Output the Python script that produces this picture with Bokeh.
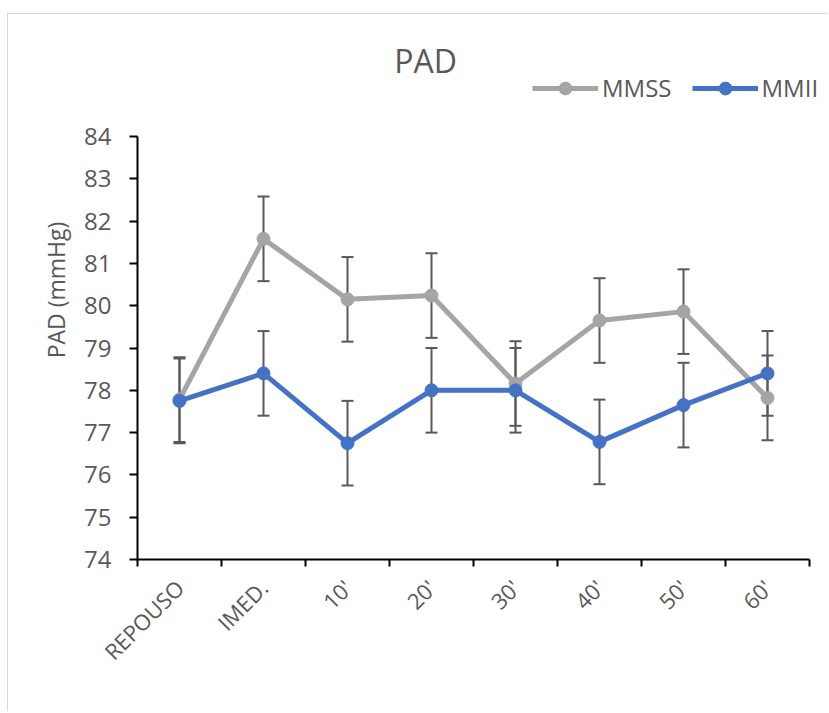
import numpy as np
from bokeh.plotting import figure
from bokeh.models import (Range1d, FixedTicker, Whisker, TeeHead, ColumnDataSource,
                          Legend, LegendItem, Label)
from bokeh.embed import file_html
from bokeh.resources import INLINE

categories = ["REPOUSO", "IMED.", "10'", "20'", "30'", "40'", "50'", "60'"]
mmss = [77.78, 81.58, 80.15, 80.24, 78.16, 79.65, 79.86, 77.82]
mmss_err = [1.0, 1.0, 1.0, 1.0, 1.0, 1.0, 1.0, 1.0]
mmii = [77.75, 78.40, 76.75, 78.00, 78.00, 76.78, 77.65, 78.40]
mmii_err = [1.0, 1.0, 1.0, 1.0, 1.0, 1.0, 1.0, 1.0]
y_ticks = [74, 75, 76, 77, 78, 79, 80, 81, 82, 83, 84]

GRAY = "#A5A5A5"
BLUE = "#4472C4"
TXT = "#595959"
FONT = "Open Sans"

n = len(categories)
xs = np.arange(n) + 0.5

# layout (pixels)
AXIS_W = 672      # width of the drawn x axis (8 categories)
AXIS_H = 423      # height of the drawn y axis (74..84)
FRAME_W = 689     # frame extends to the right so the legend is not clipped
FRAME_H = 539     # frame extends upward to hold title + legend
y0, y1 = y_ticks[0], y_ticks[-1]
x_end = n * FRAME_W / AXIS_W
y_end = y0 + (y1 - y0) * FRAME_H / AXIS_H

src_s = ColumnDataSource(dict(x=xs, y=mmss,
                              lo=np.array(mmss) - np.array(mmss_err),
                              hi=np.array(mmss) + np.array(mmss_err)))
src_i = ColumnDataSource(dict(x=xs, y=mmii,
                              lo=np.array(mmii) - np.array(mmii_err),
                              hi=np.array(mmii) + np.array(mmii_err)))

p = figure(title=None, frame_width=FRAME_W, frame_height=FRAME_H,
           min_border_left=129, min_border_right=1, min_border_top=6, min_border_bottom=152,
           x_range=Range1d(0, x_end), y_range=Range1d(y0, y_end),
           output_backend="svg", toolbar_location=None, tools="")
p.styles = {"border-top": "1px solid #D9D9D9", "border-left": "1px solid #D9D9D9",
            "margin": "13px 0px 0px 7px"}
p.outline_line_color = None
p.xgrid.visible = False
p.ygrid.visible = False

# x axis
xa = p.xaxis[0]
xa.bounds = (0, n)
xa.ticker = FixedTicker(ticks=list(xs), minor_ticks=list(range(n + 1)))
xa.major_label_overrides = {float(x): c for x, c in zip(xs, categories)}
xa.major_tick_line_color = None
xa.major_tick_out = 7
xa.minor_tick_line_color = "black"
xa.minor_tick_line_width = 2
xa.minor_tick_out = 7
xa.minor_tick_in = 0
xa.axis_line_color = "black"
xa.axis_line_width = 2
xa.major_label_orientation = np.pi / 4
xa.major_label_text_font = FONT
xa.major_label_text_font_size = "22px"
xa.major_label_text_color = TXT
xa.major_label_standoff = 17

# y axis
ya = p.yaxis[0]
ya.bounds = (y0, y1)
ya.ticker = FixedTicker(ticks=y_ticks, minor_ticks=[])
ya.axis_line_color = "black"
ya.axis_line_width = 2
ya.major_tick_line_color = "black"
ya.major_tick_line_width = 2
ya.major_tick_out = 8
ya.major_tick_in = 0
ya.major_label_text_font = FONT
ya.major_label_text_font_size = "24px"
ya.major_label_text_color = TXT
ya.major_label_standoff = 18
ya.axis_label = "PAD (mmHg)"
ya.axis_label_text_font = FONT
ya.axis_label_text_font_size = "23px"
ya.axis_label_text_font_style = "normal"
ya.axis_label_text_color = TXT
ya.axis_label_standoff = 9

# error bars
for src in (src_s, src_i):
    w = Whisker(source=src, base="x", upper="hi", lower="lo",
                line_color=TXT, line_width=2,
                upper_head=TeeHead(size=12, line_color=TXT, line_width=2),
                lower_head=TeeHead(size=12, line_color=TXT, line_width=2))
    p.add_layout(w)

ls = p.line("x", "y", source=src_s, line_color=GRAY, line_width=5)
ms = p.scatter("x", "y", source=src_s, size=13, fill_color=GRAY, line_color=GRAY)
li = p.line("x", "y", source=src_i, line_color=BLUE, line_width=5)
mi = p.scatter("x", "y", source=src_i, size=13, fill_color=BLUE, line_color=BLUE)

# title
title = Label(x=288, y=499, x_units="screen", y_units="screen", text="PAD",
              text_font=FONT, text_font_size="32px", text_color=TXT,
              text_align="center", text_baseline="middle")
p.add_layout(title)

legend = Legend(items=[LegendItem(label="MMSS", renderers=[ls, ms]),
                       LegendItem(label="MMII", renderers=[li, mi])],
                orientation="horizontal", location=(395, 455),
                glyph_width=66, glyph_height=32, label_text_font=FONT,
                label_text_font_size="24px", label_text_color=TXT,
                label_standoff=4, spacing=20, padding=0, margin=0,
                border_line_color=None, background_fill_alpha=0)
p.add_layout(legend, "center")

open("out.html", "w").write(file_html(p, INLINE))
